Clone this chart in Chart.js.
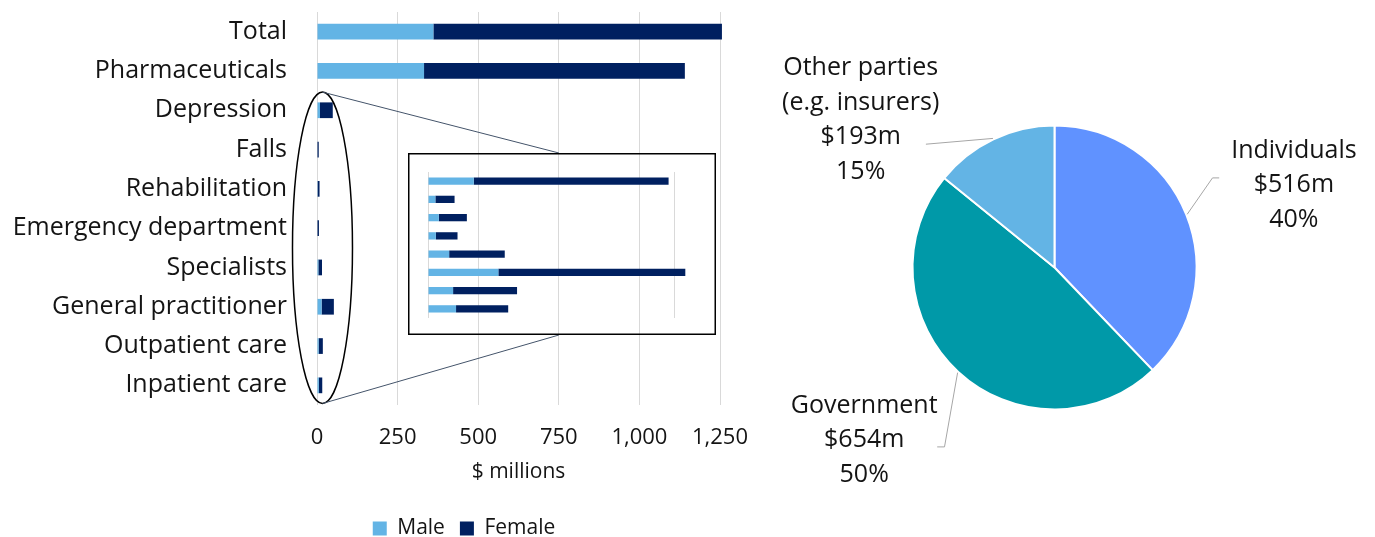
<!DOCTYPE html>
<html>
<head>
<meta charset="utf-8">
<title>Spending by sex and who pays</title>
<script src="https://cdn.jsdelivr.net/npm/chart.js@4.4.1/dist/chart.umd.min.js"></script>
<style>
  html, body { margin: 0; padding: 0; background: #fff; overflow: hidden; }
  #page { position: relative; width: 1375px; height: 537px; overflow: hidden; }
  canvas { position: absolute; }
  #spendChart { left: 0; top: 0; }
  #zoomChart { left: 408px; top: 153px; }
  #payerChart { left: 760px; top: 0; }
</style>
</head>
<body>
<div id="page">
  <canvas id="spendChart" width="928" height="549"></canvas>
  <canvas id="zoomChart" width="308" height="182"></canvas>
  <canvas id="payerChart" width="615" height="537"></canvas>
</div>
<script>
// spending by service, $ millions
const categories = ['Total', 'Pharmaceuticals', 'Depression', 'Falls', 'Rehabilitation',
  'Emergency department', 'Specialists', 'General practitioner', 'Outpatient care', 'Inpatient care']
const maleSpend = [361, 332, 9.3, 1.5, 2.2, 1.6, 4.3, 14.3, 5.1, 5.7]
const femaleSpend = [895, 809, 39.6, 3.9, 5.7, 4.4, 11.3, 38.0, 13.0, 10.6]
const spendTicks = [0, 250, 500, 750, 1000, 1250]

// who pays, $ millions
const payerNames = [['Individuals'], ['Government'], ['Other parties', '(e.g. insurers)']]
const payerSpend = [516, 654, 193]
const payerShare = ['40%', '50%', '15%']

const MALE = '#63B4E5'
const FEMALE = '#002060'
const PAYER_COLORS = ['#6092FF', '#0099A8', '#63B4E5']
const TEXT = '#141414'
const GRID = '#D9D9D9'

// first entries (Total, Pharmaceuticals) dwarf the rest, so the others get a zoomed copy
const ZOOM_FROM = 2
const ZOOM_MAX = 50
const INSET = { left: 408, top: 153, width: 308, height: 182 }

Chart.defaults.font.family = "'Open Sans', 'DejaVu Sans', sans-serif"
Chart.defaults.color = TEXT

// ellipse round the small bars plus the two lines out to the zoomed box
const zoomCallout = {
  id: 'zoomCallout',
  afterDraw (chart) {
    const { ctx } = chart
    const { x, y } = chart.scales
    const step = y.getPixelForValue(1) - y.getPixelForValue(0)
    const top = y.getPixelForValue(ZOOM_FROM) - step / 2 + 1.5
    const bottom = y.getPixelForValue(categories.length - 1) + step / 2 - 1.5
    const cx = x.getPixelForValue(17)
    ctx.save()
    ctx.strokeStyle = '#000'
    ctx.lineWidth = 1.5
    ctx.beginPath()
    ctx.ellipse(cx, (top + bottom) / 2, 30, (bottom - top) / 2, 0, 0, Math.PI * 2)
    ctx.stroke()
    const bx = INSET.left + INSET.width * 0.49
    ctx.strokeStyle = '#44546A'
    ctx.lineWidth = 1
    ctx.beginPath()
    ctx.moveTo(cx, top)
    ctx.lineTo(bx, INSET.top)
    ctx.moveTo(cx, bottom)
    ctx.lineTo(bx, INSET.top + INSET.height)
    ctx.stroke()
    ctx.restore()
  }
}

const insetFrame = {
  id: 'insetFrame',
  afterDraw (chart) {
    const { ctx, width, height } = chart
    ctx.save()
    ctx.strokeStyle = '#000'
    ctx.lineWidth = 1.5
    ctx.strokeRect(0.75, 0.75, width - 1.5, height - 1.5)
    ctx.restore()
  }
}

new Chart(document.getElementById('spendChart'), {
  type: 'bar',
  data: {
    labels: categories,
    datasets: [
      { label: 'Male', data: maleSpend, backgroundColor: MALE },
      { label: 'Female', data: femaleSpend, backgroundColor: FEMALE }
    ]
  },
  options: {
    indexAxis: 'y',
    responsive: false,
    animation: false,
    layout: { padding: { top: 12, left: 0, right: 0, bottom: 0 } },
    datasets: { bar: { categoryPercentage: 1, barPercentage: 0.4, clip: false } },
    scales: {
      x: {
        stacked: true,
        min: 0,
        max: 1250,
        afterBuildTicks: (scale) => { scale.ticks = spendTicks.map(v => ({ value: v })) },
        grid: { color: GRID, drawTicks: false },
        border: { display: false },
        ticks: { font: { size: 22 }, padding: 20 },
        title: { display: true, text: '$ millions', font: { size: 21 }, padding: { top: 0, bottom: 18 } },
        afterFit: (scale) => { scale.height = 98 }
      },
      y: {
        stacked: true,
        grid: { display: false, drawTicks: false },
        border: { display: false },
        ticks: { font: { size: 25 }, padding: 30, autoSkip: false },
        afterFit: (scale) => {
          scale.width = 317
          // labels sit mid-band, they never overflow the plot top or bottom
          scale.paddingTop = 0
          scale.paddingBottom = 0
        }
      },
      // empty right-hand space under the zoom box, keeps the legend centred on the whole figure
      gutter: {
        type: 'linear',
        position: 'right',
        grid: { display: false, drawTicks: false },
        border: { display: false },
        ticks: { display: false },
        afterFit: (scale) => { scale.width = 208 }
      }
    },
    plugins: {
      legend: {
        position: 'bottom',
        labels: { boxWidth: 14, boxHeight: 14, padding: 15, font: { size: 21 } }
      },
      tooltip: { enabled: false }
    }
  },
  plugins: [zoomCallout]
})

new Chart(document.getElementById('zoomChart'), {
  type: 'bar',
  data: {
    labels: categories.slice(ZOOM_FROM),
    datasets: [
      { label: 'Male', data: maleSpend.slice(ZOOM_FROM), backgroundColor: MALE },
      { label: 'Female', data: femaleSpend.slice(ZOOM_FROM), backgroundColor: FEMALE }
    ]
  },
  options: {
    indexAxis: 'y',
    responsive: false,
    animation: false,
    layout: { padding: { left: 20, right: 42, top: 19, bottom: 17 } },
    // GP runs a little past the last gridline
    datasets: { bar: { categoryPercentage: 1, barPercentage: 0.4, clip: false } },
    scales: {
      x: {
        stacked: true,
        min: 0,
        max: ZOOM_MAX,
        ticks: { display: false, stepSize: ZOOM_MAX },
        grid: { color: GRID, drawTicks: false },
        border: { display: false }
      },
      y: { stacked: true, display: false }
    },
    plugins: { legend: { display: false }, tooltip: { enabled: false } }
  },
  plugins: [insetFrame]
})

// label block and leader elbow for each slice, relative to the pie centre
const payerCallouts = [
  { text: [239.4, -109.6], elbow: [158, -89.6], tail: [164.7, -89.6] },
  { text: [-190.3, 145.4], elbow: [-110, 179.4], tail: [-117.3, 179.4] },
  { text: [-193.8, -192.3], elbow: [-128.6, -123.3], tail: [-128.6, -123.3] }
]

const payerLabels = {
  id: 'payerLabels',
  afterDraw (chart) {
    const { ctx } = chart
    const arcs = chart.getDatasetMeta(0).data
    ctx.save()
    arcs.forEach((arc, i) => {
      const { x, y, startAngle, endAngle, outerRadius } =
        arc.getProps(['x', 'y', 'startAngle', 'endAngle', 'outerRadius'], true)
      const mid = (startAngle + endAngle) / 2
      const c = payerCallouts[i]
      ctx.strokeStyle = '#A6A6A6'
      ctx.lineWidth = 1
      ctx.beginPath()
      ctx.moveTo(x + Math.cos(mid) * (outerRadius + 1), y + Math.sin(mid) * (outerRadius + 1))
      ctx.lineTo(x + c.elbow[0], y + c.elbow[1])
      ctx.lineTo(x + c.tail[0], y + c.tail[1])
      ctx.stroke()

      const lines = [...payerNames[i], `$${payerSpend[i]}m`, payerShare[i]]
      ctx.fillStyle = TEXT
      ctx.font = "25px 'Open Sans', 'DejaVu Sans', sans-serif"
      ctx.textAlign = 'center'
      ctx.textBaseline = 'alphabetic'
      lines.forEach((t, k) => ctx.fillText(t, x + c.text[0], y + c.text[1] + k * 34.5))
    })
    ctx.restore()
  }
}

new Chart(document.getElementById('payerChart'), {
  type: 'pie',
  data: {
    labels: payerNames.map(n => n.join(' ')),
    datasets: [{
      data: payerSpend,
      backgroundColor: PAYER_COLORS,
      borderColor: '#fff',
      borderWidth: 2
    }]
  },
  options: {
    responsive: false,
    animation: false,
    radius: 142,
    layout: { padding: { left: 0, right: 26, top: 0, bottom: 2 } },
    plugins: { legend: { display: false }, tooltip: { enabled: false } }
  },
  plugins: [payerLabels]
})
</script>
</body>
</html>
